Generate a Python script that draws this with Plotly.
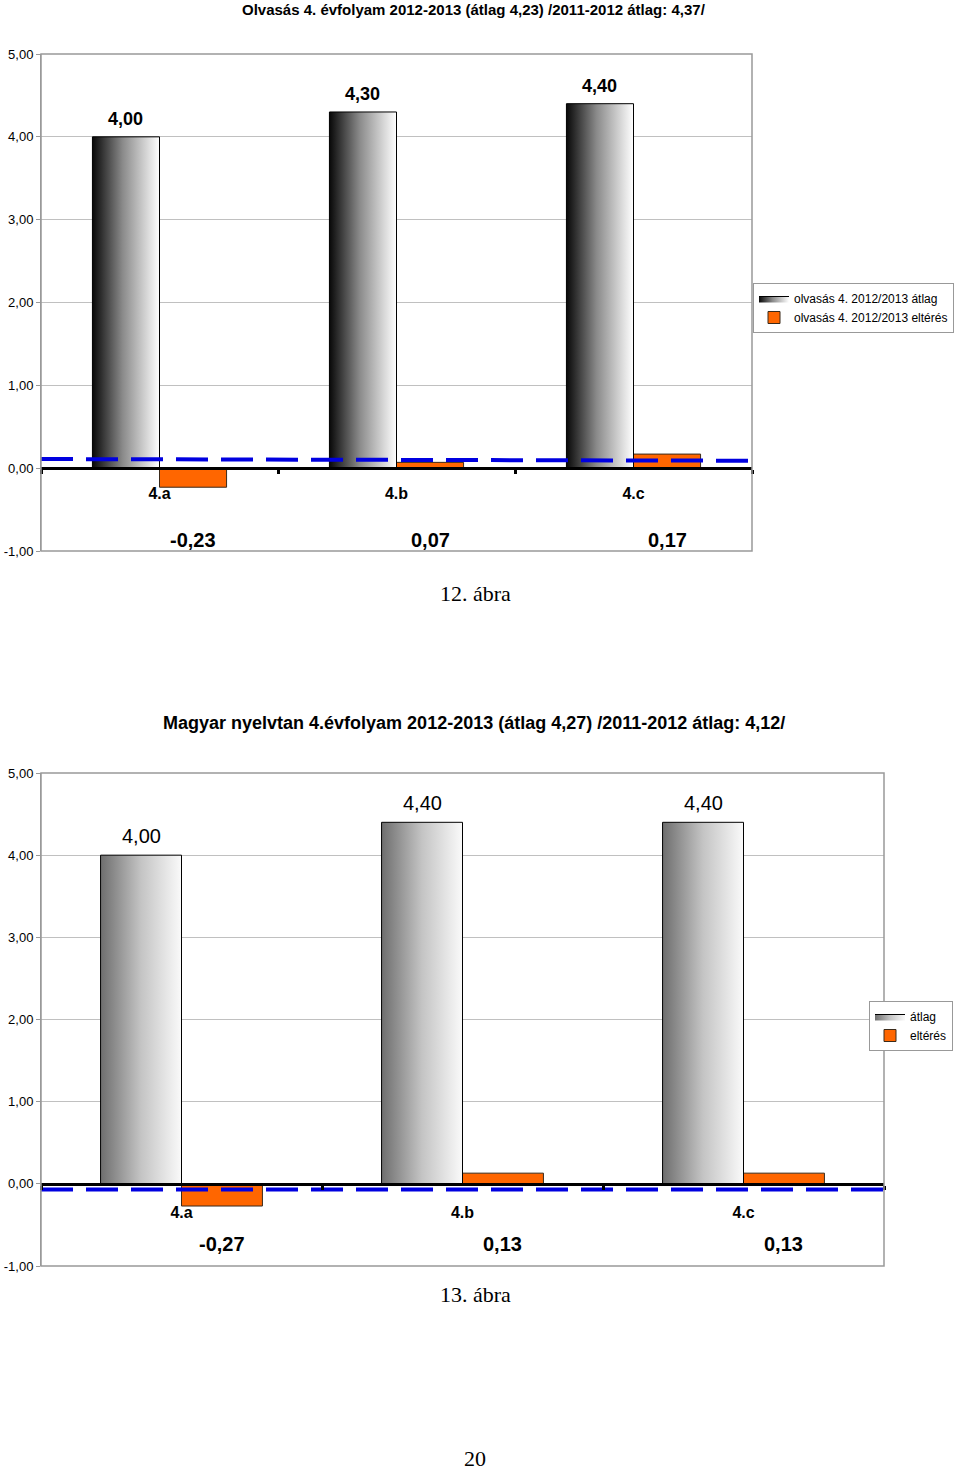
import plotly.graph_objects as go

# --- data -------------------------------------------------------------
categories = ["4.a", "4.b", "4.c"]

reading_avg = [4.00, 4.30, 4.40]
reading_diff = [-0.23, 0.07, 0.17]
reading_ref = [0.11, 0.09]  # dashed reference line (start, end)

grammar_avg = [4.00, 4.40, 4.40]
grammar_diff = [-0.27, 0.13, 0.13]
grammar_ref = [-0.07, -0.07]

y_ticks = [-1, 0, 1, 2, 3, 4, 5]

W, H = 960, 1473
FONT = "Liberation Sans, Arial, sans-serif"
SERIF = "Liberation Serif, Times New Roman, serif"


def px_x(p):
    return p / W


def px_y(p):
    return 1 - p / H


def hu(v):
    # Hungarian number style with a plain hyphen for negatives
    return f"{v:.2f}".replace(".", ",")


fig = go.Figure()
annotations = []
shapes = []


def add_chart(n, avg, diff, ref, names, legend_name, bar_w, grad, box, avg_font,
              avg_shift, diff_label_y, cat_standoff):
    xa = "x" if n == 1 else f"x{n}"
    ya = "y" if n == 1 else f"y{n}"
    x_idx = list(range(len(categories)))

    # orange difference bars
    fig.add_trace(go.Bar(
        x=x_idx, y=diff, width=bar_w, offset=0, name=names[1],
        marker=dict(color="#ff6600", line=dict(color="#3a2a1a", width=1)),
        xaxis=xa, yaxis=ya, legend=legend_name, legendrank=2,
    ))

    # gradient-filled average bars (one polygon per bar so each has its own gradient)
    for i, v in zip(x_idx, avg):
        fig.add_trace(go.Scatter(
            x=[i - bar_w, i, i, i - bar_w, i - bar_w], y=[0, 0, v, v, 0],
            mode="lines", fill="toself", name=names[0],
            line=dict(color="black", width=1),
            fillgradient=dict(type="horizontal", colorscale=grad),
            legendgroup=f"avg{n}", showlegend=(i == 0), legendrank=1,
            xaxis=xa, yaxis=ya, legend=legend_name, hoverinfo="skip",
        ))
        annotations.append(dict(
            x=i - bar_w / 2, y=v, xref=xa, yref=ya, text=hu(v),
            showarrow=False, yanchor="bottom", yshift=avg_shift, font=avg_font,
        ))

    for i, d in zip(x_idx, diff):
        annotations.append(dict(
            x=i + bar_w / 2, y=diff_label_y, xref=xa, yref=ya,
            text=hu(d), showarrow=False,
            font=dict(family=FONT, size=20, color="black", weight="bold"),
        ))

    # dashed reference line across the whole plot
    fig.add_trace(go.Scatter(
        x=[-0.5, 2.5], y=ref, mode="lines", showlegend=False,
        line=dict(color="#0000e0", width=4, dash="32px,13px"),
        xaxis=xa, yaxis=ya, hoverinfo="skip",
    ))

    x0, x1, y0, y1 = box  # pixel box of the plot area
    ydom = [px_y(y1), px_y(y0)]
    zero_pos = ydom[0] + (0 - y_ticks[0]) / (y_ticks[-1] - y_ticks[0]) * (ydom[1] - ydom[0])

    xkey = "xaxis" if n == 1 else f"xaxis{n}"
    ykey = "yaxis" if n == 1 else f"yaxis{n}"
    fig.update_layout({
        xkey: dict(
            domain=[px_x(x0), px_x(x1)], range=[-0.5, 2.5], anchor="free",
            position=zero_pos, showgrid=False, zeroline=False, automargin=False,
            showline=True, linecolor="black", linewidth=3,
            tickmode="array", tickvals=x_idx, ticktext=categories, ticks="",
            ticklabelstandoff=cat_standoff,
            tickfont=dict(family=FONT, size=16, color="black", weight="bold"),
            minor=dict(tickmode="array", tickvals=[-0.5, 0.5, 1.5, 2.5],
                       ticks="outside", ticklen=4, tickwidth=3, tickcolor="black"),
            fixedrange=True,
        ),
        ykey: dict(
            domain=ydom, range=[y_ticks[0], y_ticks[-1]], anchor=xa, automargin=False,
            tickmode="array", tickvals=y_ticks, ticktext=[hu(t) for t in y_ticks],
            showgrid=True, gridcolor="#c0c0c0", gridwidth=1, zeroline=False,
            showline=True, linecolor="#999999", ticks="outside", ticklen=4,
            tickcolor="#999999", tickfont=dict(family=FONT, size=13, color="black"),
            fixedrange=True,
        ),
    })
    shapes.append(dict(type="rect", xref=f"{xa} domain", yref=f"{ya} domain",
                       x0=0, x1=1, y0=0, y1=1, line=dict(color="#999999", width=1.5),
                       layer="above"))


add_chart(
    1, reading_avg, reading_diff, reading_ref,
    ["olvasás 4. 2012/2013 átlag", "olvasás 4. 2012/2013 eltérés"], "legend",
    0.283, [[0, "#080808"], [0.45, "#8a8a8a"], [1, "#ffffff"]],
    (41, 752, 54, 551),
    dict(family=FONT, size=18, color="black", weight="bold"), 6, -0.87, 10,
)
add_chart(
    2, grammar_avg, grammar_diff, grammar_ref,
    ["átlag", "eltérés"], "legend2",
    0.288, [[0, "#6e6e6e"], [0.5, "#c4c4c4"], [1, "#fafafa"]],
    (41, 884, 773, 1266),
    dict(family=FONT, size=20, color="black"), 6, -0.73, 13,
)

# titles, captions, page number (kept inside the page so they don't push margins)
annotations += [
    dict(x=px_x(474), y=1, xref="paper", yref="paper", showarrow=False,
         yanchor="top", yshift=1,
         text="Olvasás 4. évfolyam 2012-2013 (átlag 4,23) /2011-2012 átlag: 4,37/",
         font=dict(family=FONT, size=15, color="black", weight="bold")),
    dict(x=px_x(474), y=px_y(723), xref="paper", yref="paper", showarrow=False,
         text="Magyar nyelvtan 4.évfolyam 2012-2013 (átlag 4,27) /2011-2012 átlag: 4,12/",
         font=dict(family=FONT, size=18, color="black", weight="bold")),
    dict(x=px_x(475), y=px_y(593), xref="paper", yref="paper", showarrow=False,
         text="12. ábra", font=dict(family=SERIF, size=22, color="black")),
    dict(x=px_x(475), y=px_y(1309), xref="paper", yref="paper", showarrow=False,
         text="13. ábra", font=dict(family=SERIF, size=22, color="black")),
    dict(x=px_x(475), y=0, xref="paper", yref="paper", showarrow=False,
         yanchor="bottom", text="20", font=dict(family=SERIF, size=22, color="black")),
]

legend_style = dict(
    bgcolor="white", bordercolor="#999999", borderwidth=1,
    font=dict(family=FONT, size=12, color="black"),
    xanchor="left", yanchor="top", tracegroupgap=0, traceorder="normal",
    itemwidth=30,
)

fig.update_layout(
    width=W, height=H, autosize=False,
    margin=dict(l=0, r=0, t=0, b=0, autoexpand=False),
    paper_bgcolor="white", plot_bgcolor="white",
    separators=",.",
    barmode="overlay",
    showlegend=True,
    legend=dict(x=px_x(753), y=px_y(283), **legend_style),
    legend2=dict(x=px_x(869), y=px_y(1001), **legend_style),
    annotations=annotations,
    shapes=shapes,
    font=dict(family=FONT, color="black"),
)

fig.write_html("out.html", config={"displayModeBar": False},
               post_script="document.body.style.margin='0';")
